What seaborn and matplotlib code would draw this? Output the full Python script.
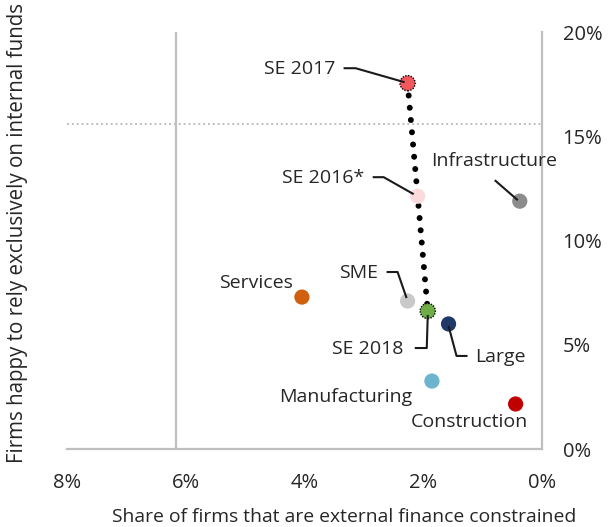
import pandas as pd
import numpy as np

import matplotlib
matplotlib.use("Agg")
import matplotlib.pyplot as plt
import matplotlib.transforms as mtransforms
import seaborn as sns

# datos (porcentajes)
names = ["SE 2017", "SE 2016*", "SE 2018", "SME", "Large", "Infrastructure",
         "Services", "Manufacturing", "Construction"]
constrained = [2.26, 2.09, 1.92, 2.26, 1.57, 0.37, 4.04, 1.85, 0.44]
internal = [17.55, 12.13, 6.62, 7.10, 6.00, 11.89, 7.29, 3.26, 2.16]
colors = ["#F2575D", "#FADADD", "#70AD47", "#C9C9C9", "#1F3A68", "#8C8C8C",
          "#D0600E", "#6DB4CF", "#C00000"]
trend = ["SE 2017", "SE 2016*", "SE 2018"]

avg_constrained = 6.16
avg_internal = 15.6

x_ticks = [8, 6, 4, 2, 0]
y_ticks = [0, 5, 10, 15, 20]

df = pd.DataFrame({"name": names, "x": constrained, "y": internal})
palette = dict(zip(names, colors))

sns.set_style("white")
plt.rcParams["font.family"] = ["Open Sans", "DejaVu Sans"]
txt = "#262626"
grey = "#BFBFBF"

fig = plt.figure(figsize=(6.08, 5.27), dpi=100)
ax = fig.add_axes([0.110, 0.148, 0.781, 0.791])
ax.set_xlim(8, 0)
ax.set_ylim(0, 20)

# líneas de referencia
ax.axvline(avg_constrained, color=grey, lw=1.6, zorder=1)
ax.axhline(avg_internal, color=grey, lw=1.4, ls=(0, (1, 1.5)), zorder=1)

# evolución SE 2017 -> 2016 -> 2018
tr = df.set_index("name").loc[trend].reset_index()
ax.plot(tr["x"], tr["y"], color="black", lw=4.3, ls=(0, (0.01, 2.05)),
        dash_capstyle="round", zorder=2)

sns.scatterplot(data=df, x="x", y="y", hue="name", palette=palette, s=120,
                linewidth=0, legend=False, ax=ax, zorder=3)
se = df[df["name"].isin(["SE 2017", "SE 2018"])]
ax.scatter(se["x"], se["y"], s=120, facecolor="none", edgecolor="black",
           linewidths=1.0, linestyle=(0, (1, 1)), zorder=4)

# etiquetas: (offset texto px, alineación, línea guía px)
labels = {
    "SE 2017": ((-72, 14), "right", [(-64, 15), (-52, 15), (-3, 1)]),
    "SE 2016*": ((-53, 18), "right", [(-45, 19), (-34, 19), (-4, 2)]),
    "SME": ((-30, 28), "right", [(-21, 29), (-10, 29), (-1, 3)]),
    "SE 2018": ((-24, -38), "right", [(-13, -37), (-1, -37), (0, -4)]),
    "Large": ((27, -33), "left", [(0, -2), (8, -32), (19, -32)]),
    "Infrastructure": ((-26, 40), "center", [(-25, 21), (-2, 1)]),
    "Services": ((-9, 14), "right", []),
    "Manufacturing": ((-20, -16), "right", []),
    "Construction": ((-46, -18), "center", []),
}

for name, (off, ha, path) in labels.items():
    px = df.loc[df["name"] == name, "x"].iloc[0]
    py = df.loc[df["name"] == name, "y"].iloc[0]
    ax.annotate(name, xy=(px, py), xytext=off, textcoords="offset pixels",
                ha=ha, va="center", fontsize=14, color=txt, zorder=5)
    if path:
        trans = mtransforms.ScaledTranslation(px, py, ax.transData)
        ax.plot([p[0] for p in path], [p[1] for p in path], transform=trans,
                color="#1a1a1a", lw=1.5, solid_capstyle="butt", zorder=5,
                clip_on=False)

ax.set_xticks(x_ticks)
ax.set_yticks(y_ticks)
ax.set_xticklabels([f"{v}%" for v in x_ticks])
ax.set_yticklabels([f"{v}%" for v in y_ticks])
ax.yaxis.tick_right()
ax.tick_params(axis="both", length=0, labelsize=14.5, labelcolor=txt)
ax.tick_params(axis="x", pad=17)
ax.tick_params(axis="y", pad=15)

for s in ["left", "top"]:
    ax.spines[s].set_visible(False)
for s in ["right", "bottom"]:
    ax.spines[s].set_color(grey)
    ax.spines[s].set_linewidth(1.6)

ax.set_xlabel("")
ax.set_ylabel("")
fig.text(0.566, 0.019, "Share of firms that are external finance constrained",
         ha="center", va="center", fontsize=13.9, color=txt)
fig.text(0.028, 0.558, "Firms happy to rely exclusively on internal funds",
         rotation=90, ha="center", va="center", fontsize=14.8, color=txt)

fig.savefig("out.png", dpi=100)
